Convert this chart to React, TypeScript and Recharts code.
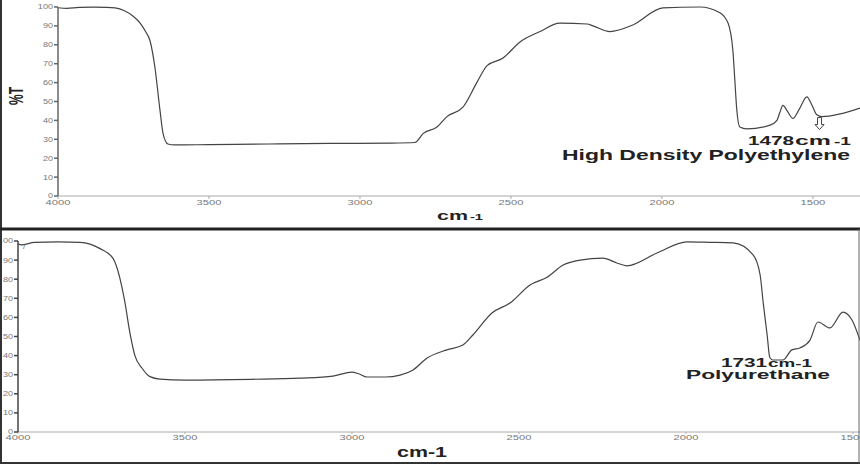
import { Line, LineChart, ReferenceDot, XAxis, YAxis } from "recharts";

// HDPE spectrum (top panel)
const hdpeWn = [
  4000, 3970, 3930, 3880, 3840, 3811, 3780, 3750, 3728, 3710, 3695, 3679, 3662, 3652, 3636, 3613,
  3500, 3300, 3100, 2900, 2818, 2791, 2745, 2712, 2659, 2613, 2579, 2526, 2470, 2404, 2338, 2248,
  2228, 2172, 2096, 1997, 1874, 1808, 1781, 1765, 1758, 1752, 1742, 1719, 1642, 1619, 1610, 1599,
  1585, 1566, 1545, 1520, 1503, 1487, 1470, 1344,
];
const hdpeT = [
  99.6, 99.3, 99.8, 99.9, 99.8, 99.5, 98, 95, 91.5, 87, 82, 68, 45, 33, 27.5, 27,
  27.2, 27.5, 27.8, 28, 28.3, 33, 36.5, 42, 47, 60, 69, 73, 81.5, 87, 91.5, 91,
  90, 87, 90.5, 99.5, 100, 97, 91.5, 77, 60, 45.5, 36.5, 35.5, 37.5, 40, 44, 48,
  45, 41, 46, 52.5, 48, 43, 42, 46.5,
];

// Polyurethane spectrum (bottom panel)
const puWn = [
  4000, 3990, 3950, 3880, 3814, 3754, 3716, 3695, 3680, 3665, 3650, 3629, 3605, 3575, 3500, 3300,
  3156, 3057, 3000, 2980, 2955, 2900, 2856, 2817, 2775, 2716, 2668, 2638, 2581, 2527, 2467, 2416,
  2368, 2317, 2249, 2207, 2177, 2087, 1997, 1930, 1859, 1799, 1778, 1769, 1757, 1749, 1740, 1710,
  1683, 1659, 1629, 1605, 1569, 1530, 1503, 1479,
];
const puT = [
  98.5, 98, 99.3, 99.5, 99.3, 96, 91, 80.6, 68, 52, 40, 33.5, 29, 27.7, 27.2, 27.6,
  28.2, 29.3, 31.4, 30.5, 28.8, 28.8, 29.8, 32.5, 38.7, 43, 45.5, 50.8, 62.3, 67.5, 77, 81,
  87.4, 90, 91, 88.5, 87, 93.7, 99.5, 99.3, 99, 92.7, 82.2, 68, 50.8, 39, 37.7, 37.7,
  43, 44, 48, 57.6, 54.5, 62.8, 58.6, 48,
];

const xTicks = [4000, 3500, 3000, 2500, 2000, 1500];
const yTicks = [0, 10, 20, 30, 40, 50, 60, 70, 80, 90, 100];
const hdpePeak = { wn: 1478, t: 41.5 };

const hdpeData = hdpeWn.map((wn, i) => ({ wn, t: hdpeT[i] }));
const puData = puWn.map((wn, i) => ({ wn, t: puT[i] }));

const FONT = "'Liberation Sans', Arial, sans-serif";

function XTick(props: any) {
  const { x, y, payload } = props;
  return (
    <g transform={`translate(${x},${y})`}>
      <text transform="scale(1.6,1)" textAnchor="middle" dy="0.71em" fontSize={7} fill="#777" fontFamily={FONT}>
        {payload.value}
      </text>
    </g>
  );
}

function YTick(props: any) {
  const { x, y, payload } = props;
  return (
    <g transform={`translate(${x},${y})`}>
      <text transform="scale(1.3,1)" textAnchor="end" dy="0.35em" fontSize={7} fill="#777" fontFamily={FONT}>
        {payload.value}
      </text>
    </g>
  );
}

function DownArrow(props: any) {
  const { cx, cy } = props;
  const d = `M${cx - 2},${cy} L${cx + 2},${cy} L${cx + 2},${cy + 7} L${cx + 4.5},${cy + 7} L${cx},${cy + 12} L${cx - 4.5},${cy + 7} L${cx - 2},${cy + 7} Z`;
  return <path d={d} fill="#fff" stroke="#444" strokeWidth={1} />;
}

export default function App() {
  return (
    <div
      style={{
        position: "absolute",
        left: 0,
        top: 0,
        width: 860,
        height: 466,
        background: "#fff",
        overflow: "hidden",
      }}
    >
      <div style={{ position: "absolute", left: 0, top: 0 }}>
        <LineChart width={860} height={229} data={hdpeData} margin={{ top: 7, right: 0, left: 8, bottom: 13 }}>
          <XAxis
            dataKey="wn"
            type="number"
            domain={[1344, 4000]}
            reversed
            allowDataOverflow
            ticks={xTicks}
            interval={0}
            height={20}
            tickSize={3}
            tickMargin={1}
            tick={<XTick />}
            stroke="#aaa"
          />
          <YAxis
            type="number"
            domain={[0, 100]}
            ticks={yTicks}
            interval={0}
            width={50}
            tickSize={4}
            tickMargin={1}
            tick={<YTick />}
            stroke="#666"
            strokeWidth={1.5}
          />
          <Line type="monotone" dataKey="t" stroke="#444" strokeWidth={1.2} dot={false} isAnimationActive={false} />
          <ReferenceDot x={hdpePeak.wn} y={hdpePeak.t} shape={<DownArrow />} />
        </LineChart>
      </div>

      <div style={{ position: "absolute", left: 0, top: 229 }}>
        <LineChart width={860} height={237} data={puData} margin={{ top: 12, right: 0, left: 0, bottom: 14 }}>
          <XAxis
            dataKey="wn"
            type="number"
            domain={[1479, 4000]}
            reversed
            allowDataOverflow
            ticks={xTicks}
            interval={0}
            height={20}
            tickSize={2}
            tickMargin={1}
            tick={<XTick />}
            stroke="#aaa"
          />
          <YAxis
            type="number"
            domain={[0, 100]}
            ticks={yTicks}
            interval={0}
            width={18}
            tickSize={4}
            tickMargin={1}
            tick={<YTick />}
            stroke="#444"
            strokeWidth={1.5}
          />
          <Line type="monotone" dataKey="t" stroke="#444" strokeWidth={1.2} dot={false} isAnimationActive={false} />
        </LineChart>
      </div>

      <svg width={860} height={466} style={{ position: "absolute", left: 0, top: 0, pointerEvents: "none" }}>
        {/* frame */}
        <line x1={1} y1={0} x2={1} y2={463} stroke="#333" strokeWidth={2} />
        <line x1={0} y1={229} x2={860} y2={229} stroke="#222" strokeWidth={3} />
        <line x1={0} y1={463} x2={860} y2={463} stroke="#333" strokeWidth={2} />
        <line x1={859} y1={229} x2={859} y2={463} stroke="#666" strokeWidth={1} />

        {/* top panel titles */}
        <text
          transform="translate(16,96) rotate(-90) scale(1,1.7)"
          textAnchor="middle"
          dy="0.35em"
          fontSize={12}
          fontWeight="bold"
          fill="#222"
          fontFamily={FONT}
        >
          %T
        </text>
        <text x={437} y={220} fontSize={13} fontWeight="bold" fill="#222" fontFamily={FONT} textLength={31} lengthAdjust="spacingAndGlyphs">
          cm
        </text>
        <text x={470} y={220} fontSize={9} fontWeight="bold" fill="#222" fontFamily={FONT} textLength={13} lengthAdjust="spacingAndGlyphs">
          -1
        </text>

        <text x={748} y={145} fontSize={13} fontWeight="bold" fill="#222" fontFamily={FONT} textLength={46} lengthAdjust="spacingAndGlyphs">
          1478
        </text>
        <text x={795} y={145} fontSize={13} fontWeight="bold" fill="#222" fontFamily={FONT} textLength={36} lengthAdjust="spacingAndGlyphs">
          cm
        </text>
        <text x={834} y={145} fontSize={10} fontWeight="bold" fill="#222" fontFamily={FONT} textLength={17} lengthAdjust="spacingAndGlyphs">
          -1
        </text>
        <text x={562} y={160} fontSize={14} fontWeight="bold" fill="#222" fontFamily={FONT} textLength={288} lengthAdjust="spacingAndGlyphs">
          High Density Polyethylene
        </text>

        {/* bottom panel titles */}
        <text x={22} y={249} fontSize={7} fill="#555" fontFamily={FONT}>
          7
        </text>
        <text x={397} y={457} fontSize={14} fontWeight="bold" fill="#222" fontFamily={FONT} textLength={50} lengthAdjust="spacingAndGlyphs">
          cm-1
        </text>
        <text x={721} y={367} fontSize={13} fontWeight="bold" fill="#222" fontFamily={FONT} textLength={46} lengthAdjust="spacingAndGlyphs">
          1731
        </text>
        <text x={768} y={367} fontSize={10} fontWeight="bold" fill="#222" fontFamily={FONT} textLength={44} lengthAdjust="spacingAndGlyphs">
          cm-1
        </text>
        <text x={686} y={379} fontSize={13} fontWeight="bold" fill="#222" fontFamily={FONT} textLength={144} lengthAdjust="spacingAndGlyphs">
          Polyurethane
        </text>
      </svg>
    </div>
  );
}
